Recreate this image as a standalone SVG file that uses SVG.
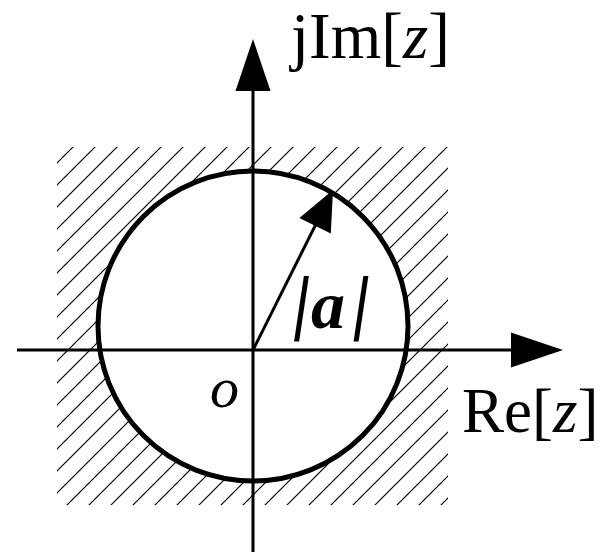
<svg xmlns="http://www.w3.org/2000/svg" width="601" height="552" viewBox="0 0 601 552">
  <style>
    .axis { stroke: #000; stroke-width: 3; fill: none; }
    .head { fill: #000; stroke: none; }
    .hatch { stroke: #000; stroke-width: 1.2; }
    .lbl { font-family: "Liberation Serif", "Times New Roman", serif; fill: #000; }
    .bar { font-family: "Liberation Serif", "Times New Roman", serif; fill: #000; font-size: 72px; font-weight: bold; text-anchor: middle; }
  </style>
  <defs>
    <pattern id="hatchPat" patternUnits="userSpaceOnUse" x="0" y="0" width="22" height="22">
      <line class="hatch" x1="0" y1="22" x2="22" y2="0"/>
      <line class="hatch" x1="-2" y1="2" x2="2" y2="-2"/>
      <line class="hatch" x1="20" y1="24" x2="24" y2="20"/>
    </pattern>
  </defs>
  <rect width="601" height="552" fill="#fff"/>

  <g id="region">
    <rect x="57" y="147" width="391" height="358" fill="url(#hatchPat)"/>
  </g>

  <g id="circle">
    <circle cx="253" cy="326" r="155" fill="#fff" stroke="#000" stroke-width="5"/>
  </g>

  <g id="connectors">
    <line class="axis" x1="17" y1="350" x2="513" y2="350"/>
    <polygon class="head" points="563,350 511,332.5 511,367.5"/>
    <line class="axis" x1="253" y1="552" x2="253" y2="89"/>
    <polygon class="head" points="253,39 235.5,91 270.5,91"/>
    <line class="axis" x1="253" y1="350" x2="317" y2="222"/>
    <polygon class="head" points="333,190 299.4,218 330.8,233.6"/>
  </g>

  <g id="label-im">
    <text class="lbl" x="291" y="58" font-size="65">jIm[<tspan font-style="italic">z</tspan>]</text>
  </g>
  <g id="label-re">
    <text class="lbl" x="462" y="432" font-size="63">Re[<tspan font-style="italic">z</tspan>]</text>
  </g>
  <g id="label-a">
    <text class="bar" transform="translate(301.5,308.5) skewX(-8.5)" x="0" y="17">|</text>
    <text class="lbl" x="311" y="328" font-size="68" font-weight="bold" font-style="italic">a</text>
    <text class="bar" transform="translate(361,308.5) skewX(-8.5)" x="0" y="17">|</text>
  </g>
  <g id="label-o">
    <text class="lbl" x="210" y="407" font-size="58" font-style="italic">o</text>
  </g>
</svg>
